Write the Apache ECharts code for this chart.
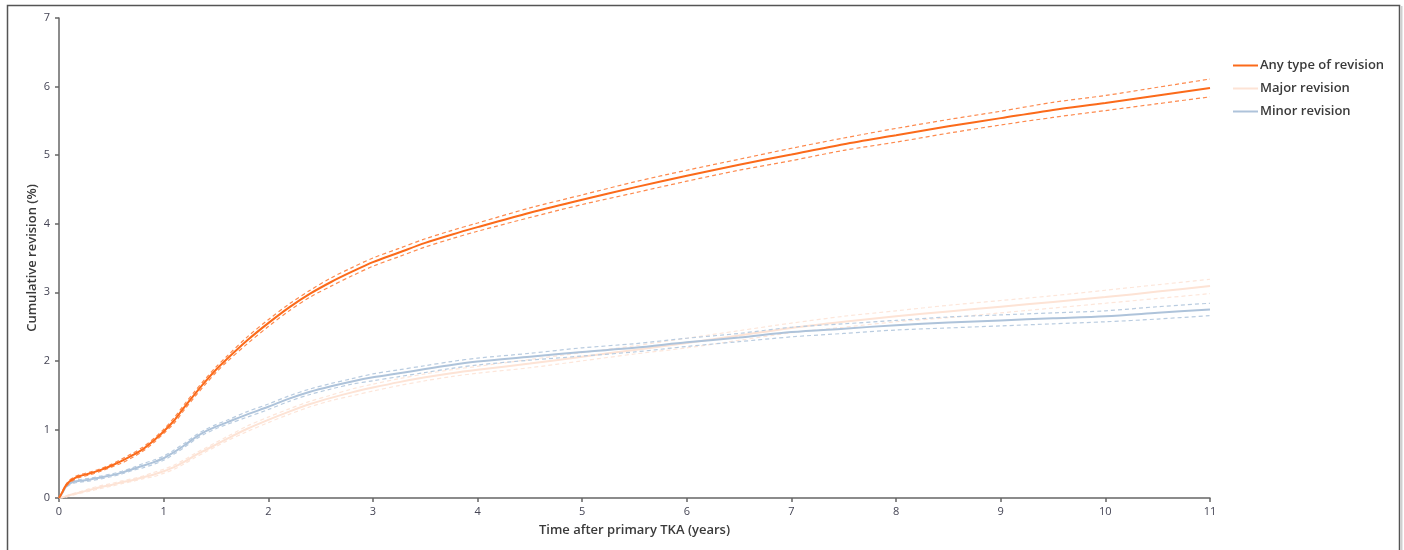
<!DOCTYPE html>
<html>
<head>
<meta charset="utf-8">
<script src="https://cdn.jsdelivr.net/npm/echarts@6/dist/echarts.min.js"></script>
<style>
html,body{margin:0;padding:0;background:#fff;}
#chart{width:1404px;height:550px;}
</style>
</head>
<body>
<div id="chart"></div>
<script>
// Time (years)
const years = [0,0.03,0.06,0.1,0.15,0.2,0.3,0.4,0.5,0.6,0.7,0.8,0.9,1.0,1.1,1.2,1.3,1.4,1.5,1.6,1.8,2.0,2.2,2.4,2.6,2.8,3.0,3.25,3.5,3.75,4.0,4.5,5.0,5.5,6.0,6.5,7.0,7.5,8.0,8.5,9.0,9.5,10.0,10.5,11.0];

// Any type of revision
const anyMain  = [0,0.08,0.17,0.24,0.29,0.32,0.36,0.41,0.47,0.54,0.62,0.71,0.83,0.97,1.13,1.33,1.52,1.70,1.87,2.02,2.30,2.55,2.78,2.98,3.15,3.30,3.44,3.58,3.72,3.84,3.95,4.16,4.35,4.53,4.70,4.86,5.01,5.16,5.29,5.42,5.54,5.66,5.76,5.87,5.98];
const anyUpper = [0,0.09,0.18,0.26,0.31,0.34,0.38,0.43,0.49,0.57,0.65,0.74,0.86,1.00,1.17,1.37,1.56,1.74,1.91,2.06,2.35,2.60,2.83,3.03,3.21,3.36,3.50,3.64,3.78,3.90,4.01,4.23,4.42,4.61,4.78,4.94,5.10,5.25,5.39,5.52,5.64,5.77,5.87,5.99,6.11];
const anyLower = [0,0.07,0.16,0.22,0.27,0.30,0.34,0.39,0.45,0.51,0.59,0.68,0.80,0.94,1.09,1.29,1.48,1.66,1.83,1.98,2.25,2.50,2.73,2.93,3.09,3.24,3.38,3.52,3.66,3.78,3.89,4.09,4.28,4.45,4.62,4.78,4.92,5.07,5.19,5.32,5.44,5.55,5.65,5.75,5.85];

// Major revision
const majorMain  = [0,0.01,0.02,0.04,0.06,0.08,0.12,0.16,0.19,0.23,0.26,0.30,0.34,0.39,0.45,0.53,0.62,0.70,0.78,0.86,1.01,1.14,1.26,1.37,1.46,1.54,1.61,1.69,1.76,1.82,1.87,1.96,2.06,2.16,2.26,2.37,2.48,2.57,2.65,2.72,2.79,2.86,2.93,3.01,3.09];
const majorUpper = [0,0.02,0.03,0.05,0.07,0.09,0.14,0.18,0.21,0.25,0.28,0.32,0.37,0.42,0.48,0.56,0.65,0.73,0.81,0.89,1.05,1.18,1.30,1.41,1.50,1.59,1.66,1.74,1.81,1.87,1.92,2.02,2.12,2.22,2.33,2.44,2.55,2.65,2.73,2.81,2.88,2.95,3.03,3.11,3.19];
const majorLower = [0,0.00,0.01,0.03,0.05,0.07,0.10,0.14,0.17,0.21,0.24,0.28,0.31,0.36,0.42,0.50,0.59,0.67,0.75,0.83,0.97,1.10,1.22,1.33,1.42,1.49,1.56,1.64,1.71,1.77,1.82,1.90,2.00,2.10,2.19,2.30,2.41,2.49,2.57,2.63,2.70,2.77,2.84,2.91,2.98];

// Minor revision
const minorMain  = [0,0.07,0.15,0.21,0.24,0.25,0.27,0.30,0.33,0.37,0.42,0.47,0.52,0.58,0.67,0.77,0.88,0.97,1.04,1.10,1.22,1.33,1.45,1.55,1.63,1.70,1.76,1.82,1.88,1.94,1.99,2.06,2.13,2.19,2.27,2.34,2.42,2.47,2.52,2.56,2.59,2.62,2.65,2.70,2.75];
const minorUpper = [0,0.08,0.16,0.23,0.26,0.27,0.29,0.32,0.35,0.39,0.44,0.50,0.55,0.61,0.70,0.80,0.91,1.00,1.07,1.13,1.26,1.37,1.49,1.59,1.67,1.74,1.81,1.87,1.93,1.99,2.04,2.11,2.19,2.25,2.33,2.40,2.49,2.54,2.59,2.64,2.67,2.70,2.73,2.79,2.84];
const minorLower = [0,0.06,0.14,0.19,0.22,0.23,0.25,0.28,0.31,0.35,0.40,0.44,0.49,0.55,0.64,0.74,0.85,0.94,1.01,1.07,1.18,1.29,1.41,1.51,1.59,1.66,1.71,1.77,1.83,1.89,1.94,2.01,2.07,2.13,2.21,2.28,2.35,2.40,2.45,2.48,2.51,2.54,2.57,2.61,2.66];

const xTicks = [0,1,2,3,4,5,6,7,8,9,10,11];
const yTicks = [0,1,2,3,4,5,6,7];

const names = ['Any type of revision','Major revision','Minor revision'];
const colors = ['#fb6a1a','#fde3d5','#aec3da'];
const ciColors = ['#fd8a4e','#fde6da','#b9cce0'];

const pair = (ys) => years.map((x, i) => [x, ys[i]]);

function mainSeries(name, ys, color, width, z) {
  return { name, type: 'line', data: pair(ys), showSymbol: false, symbol: 'none',
    smooth: 0.3, lineStyle: { color, width }, itemStyle: { color }, z, animation: false };
}
function ciSeries(name, ys, color, z) {
  return { name, type: 'line', data: pair(ys), showSymbol: false, symbol: 'none',
    smooth: 0.3, lineStyle: { color, width: 1.2, type: [4, 3] }, z, animation: false, legendHoverLink: false };
}

const chart = echarts.init(document.getElementById('chart'), null, { renderer: 'canvas' });
const font = '"Open Sans", "Noto Sans", sans-serif';
chart.setOption({
  animation: false,
  backgroundColor: '#ffffff',
  textStyle: { fontFamily: font },
  grid: { left: 59, right: 194, top: 18, bottom: 52, containLabel: false },
  legend: {
    data: names,
    orient: 'vertical',
    left: 1228, top: 54,
    icon: 'rect', itemWidth: 25, itemHeight: 2, itemGap: 10,
    textStyle: { fontSize: 13, fontWeight: 600, color: '#3a3a3a', fontFamily: font, padding: [0,0,0,-3] },
    selectedMode: false
  },
  xAxis: {
    type: 'value', min: 0, max: 11, interval: 1,
    name: 'Time after primary TKA (years)', nameLocation: 'middle', nameGap: 26,
    nameTextStyle: { fontSize: 13, fontWeight: 600, color: '#3a3a3a' },
    axisLine: { show: true, lineStyle: { color: '#666', width: 1.5 } },
    axisTick: { show: true, length: 4, inside: false, lineStyle: { color: '#666', width: 1.5 } },
    axisLabel: { fontSize: 11, color: '#454555', margin: 8, formatter: v => String(v) },
    splitLine: { show: false }
  },
  yAxis: {
    type: 'value', min: 0, max: 7, interval: 1,
    name: 'Cumulative revision (%)', nameLocation: 'middle', nameGap: 20, nameRotate: 90,
    nameMoveOverlap: false,
    nameTextStyle: { fontSize: 13, fontWeight: 600, color: '#3a3a3a' },
    axisLine: { show: true, lineStyle: { color: '#666', width: 1.5 } },
    axisTick: { show: true, length: 4, lineStyle: { color: '#666', width: 1.5 } },
    axisLabel: { fontSize: 11, color: '#454555', margin: 9 },
    splitLine: { show: false }
  },
  graphic: [
    { type: 'polyline', silent: true, shape: { points: [[7.5, 560], [7.5, 5.5], [1399.5, 5.5], [1399.5, 560]] },
      style: { stroke: '#555', lineWidth: 1.5, fill: null } },
    { type: 'line', silent: true, shape: { x1: 1401.5, y1: 6, x2: 1401.5, y2: 560 },
      style: { stroke: '#cfcfcf', lineWidth: 2 } }
  ],
  series: [
    ciSeries('Major upper', majorUpper, ciColors[1], 1),
    ciSeries('Major lower', majorLower, ciColors[1], 1),
    mainSeries(names[1], majorMain, colors[1], 2, 2),
    ciSeries('Minor upper', minorUpper, ciColors[2], 3),
    ciSeries('Minor lower', minorLower, ciColors[2], 3),
    mainSeries(names[2], minorMain, colors[2], 2, 4),
    ciSeries('Any upper', anyUpper, ciColors[0], 5),
    ciSeries('Any lower', anyLower, ciColors[0], 5),
    mainSeries(names[0], anyMain, colors[0], 2, 6)
  ]
});
</script>
</body>
</html>
